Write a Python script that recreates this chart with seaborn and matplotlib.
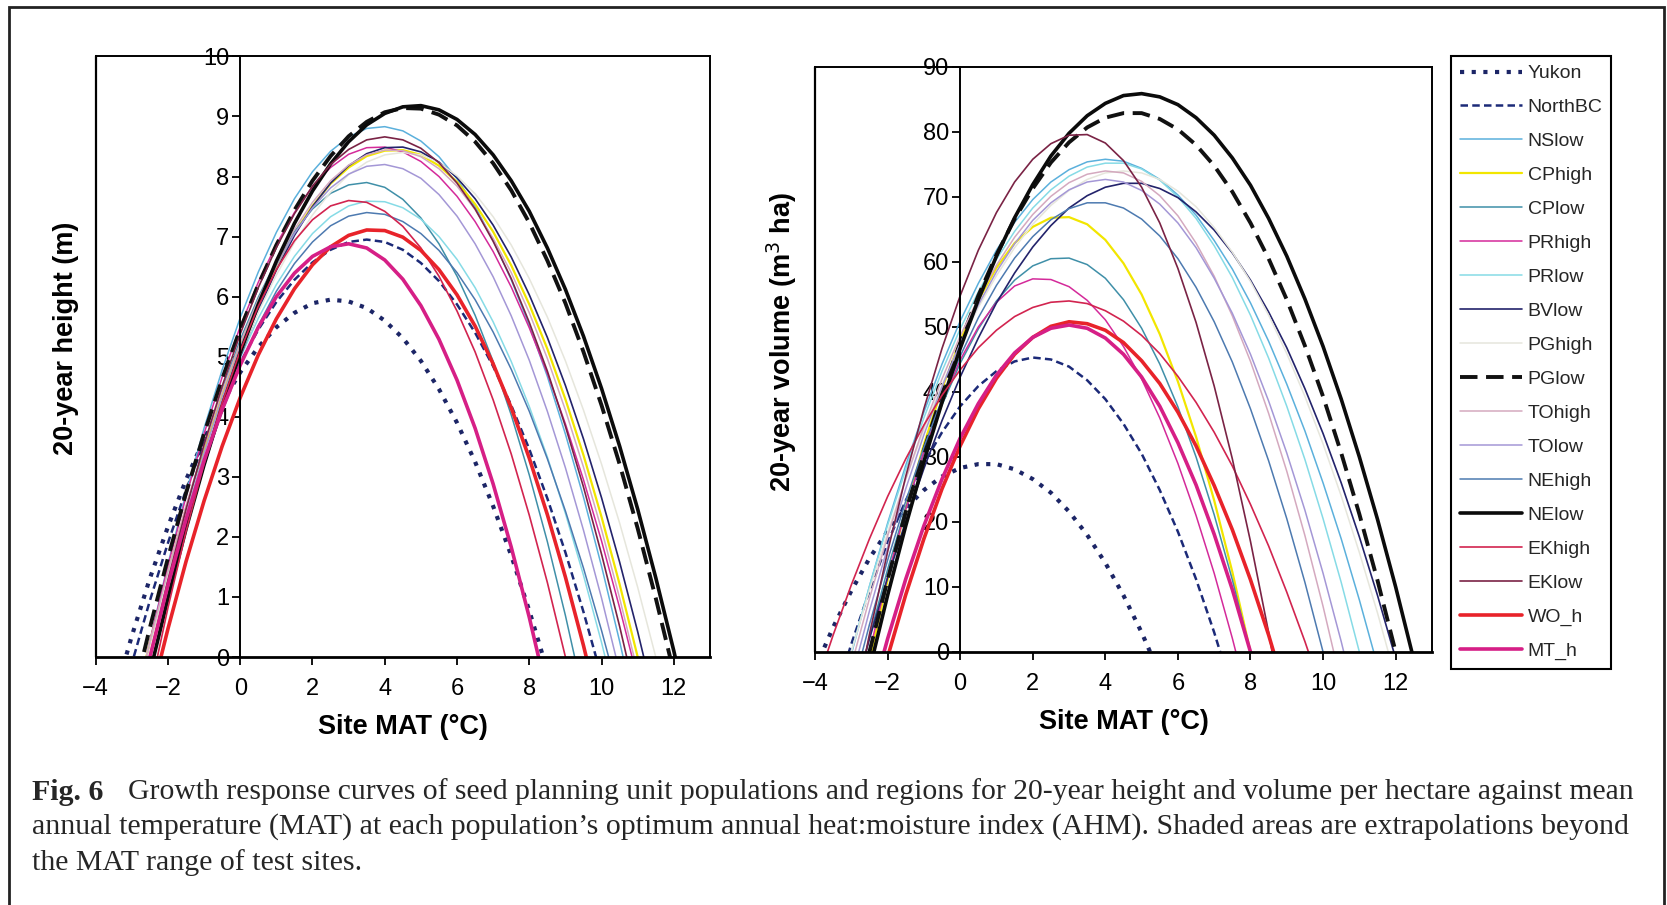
import numpy as np
import pandas as pd
import matplotlib.pyplot as plt
from matplotlib.lines import Line2D
from matplotlib.patches import Rectangle
import seaborn as sns

nan = np.nan

# site mean annual temperature (deg C), shared half-degree grid for both panels
mat = [-4, -3.5, -3, -2.5, -2, -1.5, -1, -0.5, 0, 0.5, 1, 1.5, 2, 2.5, 3, 3.5, 4, 4.5, 5, 5.5, 6,
       6.5, 7, 7.5, 8, 8.5, 9, 9.5, 10, 10.5, 11, 11.5, 12, 12.5, 13]

populations = ['Yukon', 'NorthBC', 'NSlow', 'CPhigh', 'CPlow', 'PRhigh', 'PRlow', 'BVlow', 'PGhigh',
               'PGlow', 'TOhigh', 'TOlow', 'NEhigh', 'NElow', 'EKhigh', 'EKlow', 'WO_h', 'MT_h']

# 20-year height (m)
h_yukon = [-1.83, -0.70, 0.35, 1.31, 2.17, 2.95, 3.63, 4.23, 4.74, 5.16, 5.49, 5.73, 5.89, 5.95, 5.92, 5.81, 5.60,
           5.31, 4.93, 4.46, 3.90, 3.25, 2.51, 1.69, 0.77, -0.23, -1.32, nan, nan, nan, nan, nan, nan, nan, nan]
h_northbc = [-2.45, -1.24, -0.11, 0.94, 1.90, 2.78, 3.57, 4.28, 4.90, 5.45, 5.91, 6.28, 6.57, 6.78, 6.91, 6.95,
             6.91, 6.78, 6.56, 6.26, 5.87, 5.40, 4.84, 4.19, 3.46, 2.64, 1.74, 0.75, -0.33, nan, nan, nan, nan, nan, nan]
h_nslow = [nan, nan, -1.12, 0.27, 1.55, 2.73, 3.81, 4.78, 5.65, 6.41, 7.07, 7.63, 8.08, 8.42, 8.66, 8.80, 8.83,
           8.76, 8.59, 8.33, 7.96, 7.50, 6.94, 6.28, 5.52, 4.67, 3.71, 2.66, 1.51, 0.26, -1.09, nan, nan, nan, nan]
h_cphigh = [nan, nan, -1.01, 0.25, 1.41, 2.48, 3.46, 4.36, 5.17, 5.89, 6.52, 7.06, 7.51, 7.88, 8.15, 8.34, 8.43,
            8.44, 8.36, 8.18, 7.91, 7.54, 7.08, 6.52, 5.87, 5.13, 4.29, 3.36, 2.33, 1.21, 0.0, -1.31, -2.71, nan, nan]
h_cplow = [nan, nan, -1.40, 0.00, 1.28, 2.45, 3.51, 4.45, 5.28, 5.99, 6.59, 7.08, 7.46, 7.72, 7.86, 7.90, 7.82,
           7.62, 7.31, 6.88, 6.34, 5.69, 4.92, 4.03, 3.03, 1.92, 0.69, -0.66, -2.12, nan, nan, nan, nan, nan, nan]
h_prhigh = [nan, nan, -1.10, 0.26, 1.52, 2.67, 3.72, 4.66, 5.50, 6.24, 6.87, 7.40, 7.83, 8.15, 8.37, 8.48, 8.49,
            8.41, 8.25, 8.00, 7.67, 7.25, 6.75, 6.16, 5.48, 4.72, 3.88, 2.95, 1.93, 0.82, -0.37, nan, nan, nan, nan]
h_prlow = [nan, nan, -1.00, 0.24, 1.38, 2.42, 3.37, 4.22, 4.98, 5.64, 6.20, 6.67, 7.05, 7.33, 7.51, 7.59, 7.58,
           7.48, 7.29, 7.00, 6.62, 6.15, 5.58, 4.92, 4.17, 3.33, 2.39, 1.36, 0.24, -0.98, -2.29, nan, nan, nan, nan]
h_bvlow = [nan, nan, -1.59, -0.26, 0.98, 2.13, 3.18, 4.14, 5.00, 5.77, 6.44, 7.02, 7.50, 7.89, 8.18, 8.38, 8.48,
           8.49, 8.41, 8.24, 7.98, 7.63, 7.19, 6.66, 6.03, 5.32, 4.52, 3.63, 2.65, 1.58, 0.42, -0.83, -2.18, nan, nan]
h_pghigh = [nan, nan, -0.97, 0.24, 1.36, 2.40, 3.36, 4.24, 5.03, 5.74, 6.36, 6.90, 7.36, 7.74, 8.03, 8.24, 8.36,
            8.40, 8.36, 8.23, 8.01, 7.71, 7.33, 6.86, 6.30, 5.66, 4.93, 4.11, 3.21, 2.23, 1.16, 0.00, -1.24, nan, nan]
h_pglow = [nan, nan, -0.76, 0.49, 1.65, 2.73, 3.72, 4.63, 5.46, 6.20, 6.86, 7.44, 7.93, 8.34, 8.67, 8.91, 9.07,
           9.14, 9.13, 9.03, 8.85, 8.58, 8.22, 7.77, 7.23, 6.60, 5.89, 5.08, 4.19, 3.21, 2.14, 0.98, -0.26, nan, nan]
h_tohigh = [nan, nan, -1.02, 0.25, 1.43, 2.52, 3.51, 4.42, 5.23, 5.95, 6.58, 7.12, 7.57, 7.93, 8.19, 8.36, 8.44,
            8.43, 8.33, 8.13, 7.84, 7.45, 6.97, 6.40, 5.73, 4.97, 4.11, 3.16, 2.12, 0.98, -0.25, nan, nan, nan, nan]
h_tolow = [nan, nan, -1.33, 0.00, 1.23, 2.36, 3.39, 4.32, 5.16, 5.89, 6.52, 7.05, 7.48, 7.81, 8.04, 8.17, 8.20,
           8.13, 7.97, 7.70, 7.34, 6.88, 6.33, 5.68, 4.94, 4.09, 3.15, 2.11, 0.98, -0.25, -1.58, nan, nan, nan, nan]
h_nehigh = [nan, nan, -1.27, 0.00, 1.17, 2.24, 3.21, 4.08, 4.85, 5.52, 6.09, 6.55, 6.91, 7.18, 7.34, 7.40, 7.37,
            7.25, 7.05, 6.77, 6.40, 5.95, 5.41, 4.79, 4.09, 3.30, 2.43, 1.48, 0.44, -0.68, -1.89, nan, nan, nan, nan]
h_nelow = [nan, nan, -1.58, -0.26, 0.98, 2.13, 3.20, 4.18, 5.07, 5.87, 6.59, 7.22, 7.76, 8.21, 8.58, 8.86, 9.05,
           9.16, 9.18, 9.11, 8.95, 8.70, 8.36, 7.93, 7.42, 6.81, 6.12, 5.34, 4.47, 3.51, 2.46, 1.32, 0.10, -1.22, -2.62]
h_ekhigh = [nan, nan, -2.10, -0.58, 0.82, 2.09, 3.22, 4.23, 5.10, 5.84, 6.45, 6.93, 7.28, 7.51, 7.60, 7.57, 7.42,
            7.17, 6.81, 6.34, 5.76, 5.08, 4.28, 3.38, 2.36, 1.24, 0.0, -1.34, -2.79, nan, nan, nan, nan, nan, nan]
h_eklow = [nan, nan, -1.38, 0.00, 1.28, 2.46, 3.54, 4.51, 5.38, 6.15, 6.82, 7.38, 7.84, 8.20, 8.45, 8.61, 8.66,
           8.61, 8.47, 8.23, 7.89, 7.46, 6.92, 6.30, 5.57, 4.76, 3.84, 2.83, 1.71, 0.51, -0.79, nan, nan, nan, nan]
h_wo = [nan, nan, -2.06, -0.74, 0.47, 1.59, 2.60, 3.51, 4.32, 5.03, 5.63, 6.13, 6.53, 6.83, 7.02, 7.11, 7.10,
        6.99, 6.77, 6.45, 6.03, 5.51, 4.88, 4.15, 3.31, 2.37, 1.33, 0.19, -1.05, nan, nan, nan, nan, nan, nan]
h_mt = [nan, nan, -1.32, 0.00, 1.20, 2.29, 3.27, 4.12, 4.86, 5.49, 6.00, 6.39, 6.67, 6.83, 6.88, 6.81, 6.61,
        6.29, 5.85, 5.29, 4.61, 3.81, 2.88, 1.83, 0.66, -0.63, -2.05, nan, nan, nan, nan, nan, nan, nan, nan]

# 20-year volume (m3 ha)
v_yukon = [-2.6, 3.8, 9.4, 14.4, 18.6, 22.1, 24.9, 27.0, 28.3, 28.9, 28.9, 28.1, 26.6, 24.5, 21.6, 18.0, 13.7,
           8.7, 3.0, -3.4, -10.5, nan, nan, nan, nan, nan, nan, nan, nan, nan, nan, nan, nan, nan, nan]
v_northbc = [-17.8, -7.9, 1.2, 9.4, 16.8, 23.3, 29.0, 33.8, 37.8, 40.9, 43.2, 44.7, 45.3, 45.0, 43.9, 41.8, 38.9,
             35.1, 30.5, 24.9, 18.5, 11.2, 3.0, -6.1, -16.0, nan, nan, nan, nan, nan, nan, nan, nan, nan, nan]
v_nslow = [nan, nan, -0.4, 10.1, 19.8, 28.7, 36.9, 44.3, 50.9, 56.7, 61.8, 66.1, 69.6, 72.3, 74.2, 75.4, 75.8,
           75.5, 74.4, 72.7, 70.3, 67.2, 63.3, 58.9, 53.7, 47.8, 41.2, 34.0, 26.0, 17.4, 8.0, -2.1, -12.8, nan, nan]
v_cphigh = [nan, nan, -14.8, -1.3, 11.0, 22.1, 31.9, 40.5, 47.9, 54.1, 59.1, 62.9, 65.4, 66.8, 66.9, 65.8, 63.4,
            59.8, 55.0, 48.9, 41.6, 33.1, 23.3, 12.3, 0.0, -13.5, -28.2, nan, nan, nan, nan, nan, nan, nan, nan]
v_cplow = [nan, nan, -9.3, 2.2, 12.7, 22.2, 30.6, 38.0, 44.4, 49.7, 54.0, 57.2, 59.4, 60.5, 60.6, 59.6, 57.5,
           54.2, 49.8, 44.3, 37.7, 30.0, 21.1, 11.1, 0.0, -12.2, -25.6, nan, nan, nan, nan, nan, nan, nan, nan]
v_prhigh = [nan, nan, -12.9, 0.0, 11.6, 21.9, 30.8, 38.5, 44.9, 50.0, 53.8, 56.3, 57.4, 57.3, 56.2, 54.1, 51.1,
            47.0, 42.0, 36.0, 29.0, 21.0, 12.1, 2.1, -8.8, nan, nan, nan, nan, nan, nan, nan, nan, nan, nan]
v_prlow = [-22.4, -10.8, 0.0, 10.1, 19.5, 28.1, 36.0, 43.2, 49.7, 55.4, 60.4, 64.7, 68.3, 71.1, 73.2, 74.6, 75.2,
           75.2, 74.3, 72.6, 70.0, 66.7, 62.5, 57.6, 51.8, 45.2, 37.8, 29.6, 20.5, 10.7, 0.0, -11.5, -23.8, nan, nan]
v_bvlow = [nan, nan, -8.1, 2.0, 11.4, 20.1, 28.2, 35.6, 42.3, 48.3, 53.7, 58.3, 62.3, 65.6, 68.3, 70.2, 71.5,
           72.1, 72.1, 71.3, 69.9, 67.7, 64.9, 61.4, 57.2, 52.3, 46.8, 40.5, 33.6, 26.0, 17.7, 8.7, -1.0, nan, nan]
v_pghigh = [-21.0, -10.2, 0.0, 9.5, 18.4, 26.6, 34.2, 41.1, 47.4, 53.0, 57.9, 62.2, 65.8, 68.7, 71.0, 72.7, 73.7,
            74.0, 73.7, 72.7, 70.9, 68.5, 65.3, 61.5, 57.0, 51.8, 45.9, 39.3, 32.0, 24.0, 15.3, 6.0, -4.1, nan, nan]
v_pglow = [nan, nan, -11.9, 0.0, 11.1, 21.5, 31.0, 39.7, 47.6, 54.8, 61.1, 66.6, 71.3, 75.3, 78.4, 80.7, 82.2,
           82.9, 82.9, 82.0, 80.4, 78.0, 74.8, 70.8, 66.0, 60.5, 54.2, 47.1, 39.3, 30.6, 21.2, 11.0, 0.0, -11.8, -24.3]
v_tohigh = [nan, nan, -2.1, 8.2, 17.8, 26.6, 34.7, 42.0, 48.6, 54.4, 59.5, 63.8, 67.3, 70.1, 72.2, 73.5, 74.0,
            73.7, 72.4, 70.2, 67.1, 62.9, 57.8, 51.7, 44.7, 36.7, 27.8, 17.9, 7.0, -4.9, -17.7, nan, nan, nan, nan]
v_tolow = [nan, nan, -4.3, 6.3, 16.1, 25.1, 33.4, 40.8, 47.5, 53.4, 58.5, 62.8, 66.4, 69.1, 71.1, 72.3, 72.7,
           72.3, 71.0, 68.9, 66.0, 62.2, 57.5, 52.1, 45.8, 38.6, 30.6, 21.8, 12.1, 1.6, -9.8, nan, nan, nan, nan]
v_nehigh = [nan, nan, -6.5, 4.2, 14.1, 23.2, 31.5, 38.9, 45.5, 51.4, 56.4, 60.6, 63.9, 66.5, 68.2, 69.1, 69.1,
            68.3, 66.6, 64.0, 60.5, 56.1, 50.8, 44.6, 37.4, 29.4, 20.5, 10.7, 0.0, -11.6, -24.1, nan, nan, nan, nan]
v_nelow = [nan, nan, -15.1, -2.8, 8.7, 19.4, 29.3, 38.4, 46.7, 54.2, 60.9, 66.8, 71.9, 76.3, 79.8, 82.5, 84.4,
           85.6, 85.9, 85.4, 84.2, 82.2, 79.5, 76.0, 71.8, 66.7, 60.9, 54.3, 47.0, 38.9, 30.0, 20.4, 10.0, -1.2, -13.1]
v_ekhigh = [-5.7, 2.6, 10.3, 17.4, 23.9, 29.7, 34.9, 39.5, 43.4, 46.8, 49.5, 51.6, 53.0, 53.8, 54.0, 53.6, 52.5,
            50.9, 48.7, 45.9, 42.4, 38.4, 33.8, 28.6, 22.7, 16.3, 9.2, 1.6, -6.6, nan, nan, nan, nan, nan, nan]
v_eklow = [nan, nan, -11.2, 2.7, 15.4, 27.0, 37.4, 46.7, 54.8, 61.8, 67.6, 72.3, 75.8, 78.2, 79.5, 79.6, 78.3,
           75.6, 71.5, 66.0, 59.0, 50.7, 40.9, 29.7, 17.0, 3.0, -12.5, nan, nan, nan, nan, nan, nan, nan, nan]
v_wo = [nan, nan, -23.0, -11.4, -0.8, 8.8, 17.4, 25.1, 31.7, 37.4, 42.1, 45.8, 48.4, 50.1, 50.8, 50.5, 49.5,
        47.6, 44.8, 41.3, 36.9, 31.7, 25.6, 18.8, 11.1, 2.6, -6.8, nan, nan, nan, nan, nan, nan, nan, nan]
v_mt = [nan, nan, -19.3, -8.2, 2.0, 11.2, 19.4, 26.6, 32.9, 38.2, 42.6, 46.0, 48.4, 49.8, 50.3, 49.8, 48.3,
        45.8, 42.3, 37.8, 32.2, 25.7, 18.1, 9.6, 0.0, -10.6, -22.1, nan, nan, nan, nan, nan, nan, nan, nan]

colors = ['#1c2566', '#1c2a78', '#5bb0dc', '#f2e600', '#3f8fa8', '#d42a9a', '#86dbe6', '#23236b', '#e6e6dc',
          '#111111', '#d4a9bf', '#a497d6', '#4d7ab0', '#0b0b0b', '#d2244f', '#7a2345', '#e8232a', '#d61f86']
widths = [3.0, 1.8, 1.1, 1.6, 1.1, 1.1, 1.1, 1.2, 1.1, 2.8, 1.1, 1.1, 1.1, 2.6, 1.2, 1.2, 2.6, 2.6]
dashes = [(1, 1.8), (3, 1.7), '', '', '', '', '', '', '', (4.5, 2.2), '', '', '', '', '', '', '', '']

height = [h_yukon, h_northbc, h_nslow, h_cphigh, h_cplow, h_prhigh, h_prlow, h_bvlow, h_pghigh,
          h_pglow, h_tohigh, h_tolow, h_nehigh, h_nelow, h_ekhigh, h_eklow, h_wo, h_mt]
volume = [v_yukon, v_northbc, v_nslow, v_cphigh, v_cplow, v_prhigh, v_prlow, v_bvlow, v_pghigh,
          v_pglow, v_tohigh, v_tolow, v_nehigh, v_nelow, v_ekhigh, v_eklow, v_wo, v_mt]


def long_table(curves):
    frames = [pd.DataFrame({'MAT': mat, 'value': vals, 'pop': name})
              for name, vals in zip(populations, curves)]
    return pd.concat(frames, ignore_index=True)


sns.set_style('ticks')
plt.rcParams['font.family'] = ['Liberation Sans', 'DejaVu Sans']

pal = dict(zip(populations, colors))
siz = dict(zip(populations, widths))
dsh = dict(zip(populations, dashes))

fig = plt.figure(figsize=(16.67, 9.05), dpi=100)
ax1 = fig.add_axes([0.0574, 0.274, 0.3685, 0.6637])
ax2 = fig.add_axes([0.4889, 0.2796, 0.3701, 0.6464])

panels = [(ax1, height, 10, 1, '20-year height (m)', -0.027),
          (ax2, volume, 90, 10, '20-year volume (m$^3$ ha)', -0.026)]

for ax, curves, top, step, ylab, labx in panels:
    sns.lineplot(data=long_table(curves), x='MAT', y='value', hue='pop', size='pop', style='pop',
                 hue_order=populations, size_order=populations, style_order=populations,
                 palette=pal, sizes=siz, dashes=dsh, estimator=None, legend=False, ax=ax)
    for ln in ax.get_lines():
        ln.set_solid_joinstyle('round')
    ax.set_xlim(-4, 13)
    ax.set_ylim(0, top)
    ax.set_xticks(range(-4, 13, 2))
    ax.set_yticks(range(0, top + step, step))
    ax.spines['left'].set_position(('data', 0))
    for s in ax.spines.values():
        s.set_visible(True)
        s.set_color('black')
        s.set_linewidth(1.4)
    ax.spines['bottom'].set_linewidth(2.0)
    ax.axvline(-4, color='black', lw=1.6, clip_on=False)
    ax.tick_params(direction='out', length=6, width=1.3, colors='black', labelsize=17)
    ax.tick_params(axis='x', pad=9)
    ax.tick_params(axis='y', pad=2)
    ax.set_xlabel('Site MAT (°C)', fontsize=19.5, fontweight='bold', color='black', labelpad=10)
    ax.set_ylabel(ylab, fontsize=19.5, fontweight='bold', color='black')
    ax.yaxis.set_label_coords(labx, 0.53)

handles = []
for name in populations:
    h = Line2D([], [], color=pal[name], lw=siz[name])
    if dsh[name]:
        h.set_dashes(dsh[name])
    handles.append(h)
leg = fig.legend(handles, populations, loc='upper left', bbox_to_anchor=(1451 / 1667, 1 - 56 / 905),
                 frameon=True, fancybox=False, edgecolor='black', framealpha=1, fontsize=14,
                 handlelength=3.2, handletextpad=0.3, labelspacing=0.84, borderpad=0.45,
                 borderaxespad=0)
leg.get_frame().set_linewidth(1.5)

# caption
cap_font = ['Liberation Serif', 'DejaVu Serif']
cap_y = [1 - 792 / 905, 1 - 827 / 905, 1 - 863 / 905]
fig_no = fig.text(32 / 1667, cap_y[0], 'Fig. 6', fontweight='bold', family=cap_font, va='center')
line1 = fig.text(128 / 1667, cap_y[0],
                 'Growth response curves of seed planning unit populations and regions for 20-year height and '
                 'volume per hectare against mean', family=cap_font, va='center')
line2 = fig.text(32 / 1667, cap_y[1],
                 'annual temperature (MAT) at each population\u2019s optimum annual heat:moisture index (AHM). '
                 'Shaded areas are extrapolations beyond', family=cap_font, va='center')
line3 = fig.text(32 / 1667, cap_y[2], 'the MAT range of test sites.', family=cap_font, va='center')
# the printed caption is justified to x = 1635 px; size each line to reach it
for t in (fig_no, line1, line2, line3):
    t.set_fontsize(19)
fig.canvas.draw()
s1 = 19 * (1635 - 128) / line1.get_window_extent().width
s2 = 19 * (1635 - 32) / line2.get_window_extent().width
line1.set_fontsize(s1)
line2.set_fontsize(s2)
fig_no.set_fontsize(s2)
line3.set_fontsize(s2)

# outer frame of the figure panel
fig.add_artist(Rectangle((8.5 / 1667, -0.05), (1664 - 8.5) / 1667, 1.05 - 7.5 / 905,
                         transform=fig.transFigure, fill=False, lw=2, ec='#222222'))

fig.savefig('out.png', dpi=100)
